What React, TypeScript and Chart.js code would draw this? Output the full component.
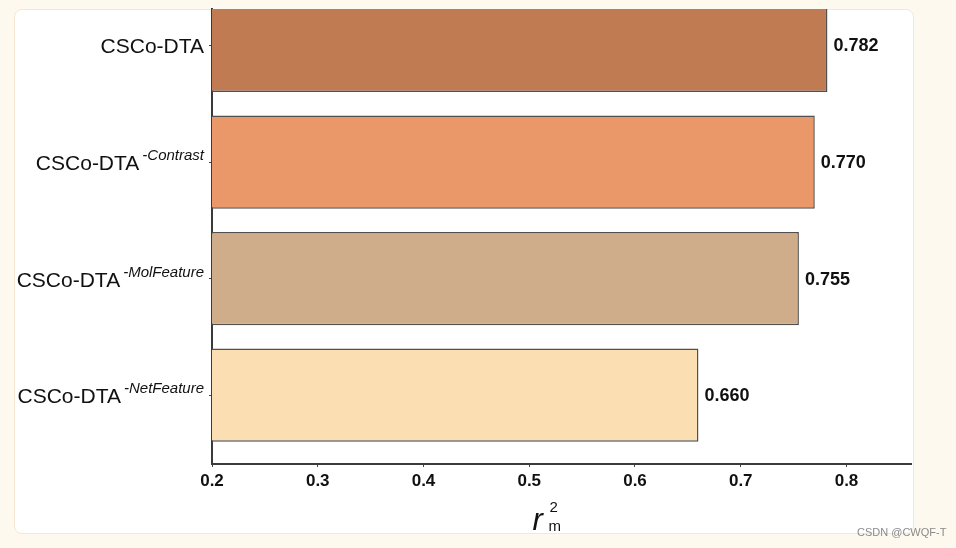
import React, { useEffect, useRef } from "react";
import { Chart, registerables } from "chart.js";

Chart.register(...registerables);

const categories = ["CSCo-DTA", "CSCo-DTA", "CSCo-DTA", "CSCo-DTA"];
const superscripts = ["", "-Contrast", "-MolFeature", "-NetFeature"];
const categoryIndex = [0, 1, 2, 3];
const values = [0.782, 0.77, 0.755, 0.66];
const barColors = ["#c17b53", "#ea976a", "#cfad8b", "#fbdfb3"];
const xTitleMain = "r";
const xTitleSup = "2";
const xTitleSub = "m";
const watermark = "CSDN @CWQF-T";

const FONT = "'Liberation Sans', Arial, Helvetica, sans-serif";

const labelPlugin = {
  id: "customLabels",
  afterDraw(chart: any) {
    const ctx = chart.ctx as CanvasRenderingContext2D;
    const yScale = chart.scales.y;
    const area = chart.chartArea;
    const meta = chart.getDatasetMeta(0);
    ctx.save();
    ctx.fillStyle = "#111";

    // value labels
    ctx.font = `bold 18px ${FONT}`;
    ctx.textAlign = "left";
    ctx.textBaseline = "middle";
    meta.data.forEach((bar: any, i: number) => {
      ctx.fillText(values[i].toFixed(3), bar.x + 6, bar.y + 1);
    });

    // category labels with superscripts
    ctx.textBaseline = "alphabetic";
    ctx.textAlign = "right";
    categories.forEach((name, i) => {
      const cy = yScale.getPixelForValue(categoryIndex[i]);
      let x = area.left - 8;
      const sup = superscripts[i];
      if (sup) {
        ctx.font = `italic 15px ${FONT}`;
        ctx.fillText(sup, x, cy - 2);
        x -= ctx.measureText(sup).width + 3;
      }
      ctx.font = `21px ${FONT}`;
      ctx.fillText(name, x, cy + 8);
    });

    // x axis title r_m^2
    const cx = (area.left + area.right) / 2;
    ctx.textAlign = "left";
    ctx.font = `italic 31px ${FONT}`;
    ctx.fillText(xTitleMain, cx - 29, 530);
    ctx.font = `15px ${FONT}`;
    ctx.fillText(xTitleSup, cx - 12, 512);
    ctx.fillText(xTitleSub, cx - 13, 531);
    ctx.restore();
  },
};

export default function App() {
  const canvasRef = useRef<HTMLCanvasElement | null>(null);

  useEffect(() => {
    if (!canvasRef.current) return;
    const chart = new Chart(canvasRef.current, {
      type: "bar",
      data: {
        datasets: [
          {
            data: values.map((v, i) => ({ x: v, y: categoryIndex[i] })),
            backgroundColor: barColors,
            borderColor: "#505050",
            borderWidth: 1.5,
            barPercentage: 0.8,
            categoryPercentage: 1,
          },
        ],
      },
      options: {
        indexAxis: "y",
        animation: false,
        responsive: false,
        maintainAspectRatio: false,
        layout: { padding: { top: 9, right: 45, left: 0, bottom: 0 } },
        plugins: {
          legend: { display: false },
          tooltip: { enabled: false },
        },
        scales: {
          x: {
            type: "linear",
            position: "bottom",
            min: 0.2,
            max: 0.861,
            ticks: {
              stepSize: 0.1,
              includeBounds: false,
              color: "#111",
              padding: 4,
              font: { family: FONT, size: 17, weight: "bold" },
              callback: (v: any) => Number(v).toFixed(1),
            },
            grid: {
              display: true,
              drawOnChartArea: false,
              drawTicks: true,
              tickLength: 3,
              color: "#444",
            },
            border: { display: true, color: "#3a3a3a", width: 2 },
            afterFit: (s: any) => {
              s.height = 84;
            },
          },
          y: {
            type: "linear",
            reverse: true,
            offset: false,
            min: -0.313,
            max: 3.59,
            ticks: { display: false, stepSize: 1, includeBounds: false },
            grid: {
              display: true,
              offset: false,
              drawOnChartArea: false,
              drawTicks: true,
              tickLength: 3,
              color: "#444",
            },
            border: { display: true, color: "#3a3a3a", width: 2 },
            afterFit: (s: any) => {
              s.width = 212;
            },
          },
        },
      } as any,
      plugins: [labelPlugin],
    });
    return () => chart.destroy();
  }, []);

  return (
    <div
      style={{
        position: "absolute",
        left: 0,
        top: 0,
        width: 956,
        height: 548,
        background: "#fdf9ef",
        overflow: "hidden",
      }}
    >
      <div
        style={{
          position: "absolute",
          left: 14,
          top: 9,
          width: 898,
          height: 523,
          background: "#ffffff",
          border: "1px solid #f6e7d5",
          borderRadius: 8,
        }}
      />
      <canvas
        ref={canvasRef}
        width={956}
        height={548}
        style={{ position: "absolute", left: 0, top: 0, display: "block" }}
      />
      <div
        style={{
          position: "absolute",
          left: 857,
          top: 526,
          fontFamily: FONT,
          fontSize: 11,
          color: "#8a8a8a",
          whiteSpace: "nowrap",
        }}
      >
        {watermark}
      </div>
    </div>
  );
}
